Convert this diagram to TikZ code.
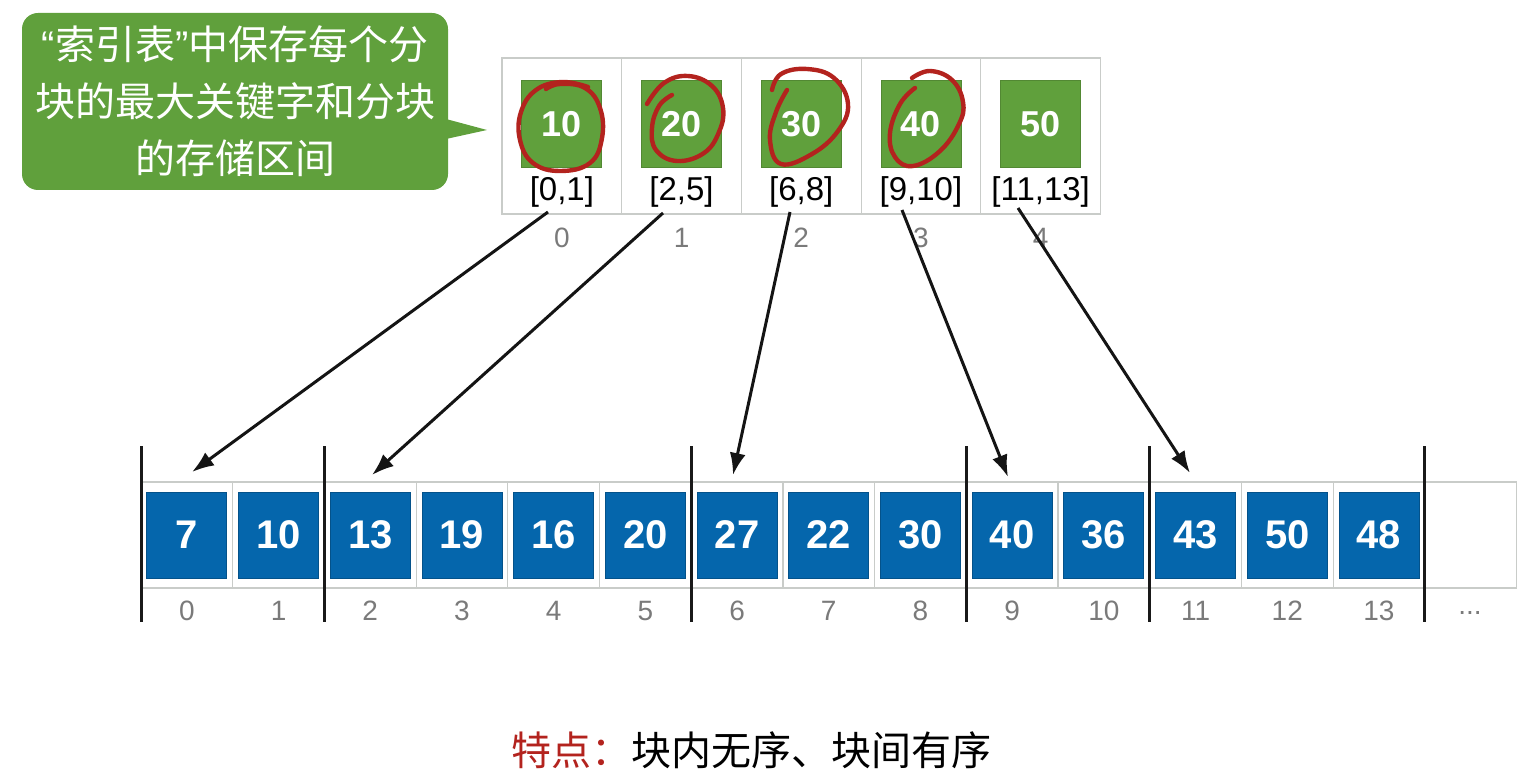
\documentclass[tikz,border=0pt]{standalone}
\usepackage{fontspec}
\setmainfont{Liberation Sans}
\newfontfamily\cjk{Noto Sans CJK SC}
\newfontfamily\qfont{Liberation Sans}
\usetikzlibrary{arrows.meta}
\definecolor{blk}{HTML}{0566AC}
\definecolor{grn}{HTML}{60A03C}
\definecolor{redc}{HTML}{B3231E}
\definecolor{idxgray}{HTML}{7A7A7A}
\definecolor{cellline}{HTML}{C9CCC9}
\begin{document}
\begin{tikzpicture}[x=1pt,y=-1pt,
  cellbox/.style={draw=cellline, line width=1.2pt, minimum width=91.7pt, minimum height=106pt, inner sep=0pt, outer sep=0pt},
  topcell/.style={draw=cellline, line width=1.2pt, minimum width=119.7pt, minimum height=156pt, inner sep=0pt, outer sep=0pt},
  bluebox/.style={fill=blk, draw=blk!80!black, line width=0.8pt, minimum width=80pt, minimum height=86pt, inner sep=0pt, text=white, font=\bfseries\fontsize{40}{40}\selectfont},
  greenbox/.style={fill=grn, draw=grn!85!black, line width=0.8pt, minimum width=80pt, minimum height=87pt, inner sep=0pt, text=white, font=\bfseries\fontsize{36}{36}\selectfont},
  ivl/.style={inner sep=0pt, text=black, font=\fontsize{33}{33}\selectfont},
  idx/.style={inner sep=0pt, text=idxgray, font=\fontsize{28}{28}\selectfont},
  sepline/.style={line width=3pt, black!90},
  arr/.style={line width=3pt, black!92, -{Latex[length=22pt,width=16pt]}},
  redline/.style={draw=redc, line width=4.4pt, line cap=round, line join=round},
  callout/.style={fill=grn, rounded corners=16pt, minimum width=426pt, minimum height=177pt, inner sep=0pt, align=center, text=white, font=\cjk\fontsize{40}{57}\selectfont}
]
\useasboundingbox (0,0) rectangle (1531,775);

% ---------- bottom array ----------
\foreach \v [count=\i from 0] in {7,10,13,19,16,20,27,22,30,40,36,43,50,48} {
  \node[cellbox] (c\i) at (186.85+91.7*\i,535) {};
  \node[bluebox] (b\i) at (186.85+91.7*\i,535) {\v};
  \node[idx] (n\i) at (186.85+91.7*\i,611) {\i};
}
\node[cellbox] (c14) at (186.85+91.7*14,535) {};
\node[idx] (n14) at (1470,613) {...};
\foreach \k in {0,2,6,9,11,14} {
  \draw[sepline] (141+91.7*\k,446) -- (141+91.7*\k,622);
}

% ---------- index table ----------
\foreach \v [count=\j from 0] in {10,20,30,40,50} {
  \node[topcell] (t\j) at (561.85+119.7*\j,136) {};
  \node[greenbox] (g\j) at (561.85+119.7*\j,124) {\v};
  \node[idx] (m\j) at (561.85+119.7*\j,238) {\j};
}
\node[ivl] (iv0) at (561.85,192) {[0,1]};
\node[ivl] (iv1) at (681.55,192) {[2,5]};
\node[ivl] (iv2) at (801.25,192) {[6,8]};
\node[ivl] (iv3) at (920.95,192) {[9,10]};
\node[ivl] (iv4) at (1040.65,192) {[11,13]};

% ---------- red circles ----------
\draw[redline] plot[smooth, tension=0.7] coordinates {(588,87) (562,82) (536,90) (521,112) (520,140) (533,163) (560,171) (590,163) (602,138) (600,108) (585,88) (560,84) (546,89)};
\draw[redline] plot[smooth, tension=0.7] coordinates {(672,95) (659,106) (652,128) (656,150) (677,161) (704,153) (719,132) (723,108) (712,86) (688,76) (664,83) (647,104)};
\draw[redline] plot[smooth, tension=0.7] coordinates {(787,90) (776,112) (770,140) (781,164) (812,154) (838,131) (848,104) (834,78) (807,69) (781,74) (772,90)};
\draw[redline] plot[smooth, tension=0.7] coordinates {(915,88) (900,104) (890,133) (895,157) (913,166) (940,151) (959,124) (963,102) (952,80) (930,71) (912,78)};

% ---------- arrows ----------
\coordinate (s0) at (548,212); \coordinate (e0) at (192,472);
\coordinate (s1) at (663,213); \coordinate (e1) at (372,475);
\coordinate (s2) at (790,212); \coordinate (e2) at (733,475);
\coordinate (s3) at (902,210); \coordinate (e3) at (1008,477);
\coordinate (s4) at (1018,208); \coordinate (e4) at (1190,473);
\foreach \a in {0,...,4} { \draw[arr] (s\a) -- (e\a); }

% ---------- callout ----------
\node[callout] (call) at (235,101.5) {{\qfont “}索引表{\qfont ”}中保存每个分\\块的最大关键字和分块\\的存储区间};
\fill[grn] (446,119) -- (487,130) -- (446,139) -- cycle;

% ---------- caption ----------
\node[inner sep=0pt, font=\cjk\fontsize{40}{40}\selectfont] (feat) at (751,750) {{\color{redc}特点：}块内无序、块间有序};
\end{tikzpicture}
\end{document}
